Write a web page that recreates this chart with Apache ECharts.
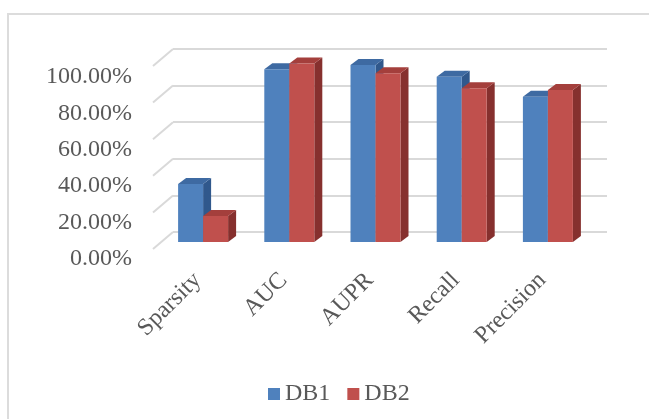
<!DOCTYPE html>
<html>
<head>
<meta charset="utf-8">
<script src="https://cdn.jsdelivr.net/npm/echarts@6/dist/echarts.min.js"></script>
<style>
html,body{margin:0;padding:0;background:#fff;}
#chart{width:649px;height:419px;}
</style>
</head>
<body>
<div id="chart"></div>
<script>
const categories = ['Sparsity', 'AUC', 'AUPR', 'Recall', 'Precision'];
const DB1 = [31.7, 94.4, 96.7, 90.3, 79.4];
const DB2 = [14.2, 97.6, 92.2, 84.0, 83.0];
const yTicks = [0, 20, 40, 60, 80, 100];

const FONT = '"Liberation Serif", "Times New Roman", serif';
const TXT = '#595959';
const GRIDC = '#d9d9d9';
const BAR_W = 25, DX = 8, DY = -6;

const colors = {
  DB1: { front: '#4F81BD', top: '#3E6AA2', side: '#30588C' },
  DB2: { front: '#C0504D', top: '#A43F3C', side: '#86302E' }
};

function barRenderer(sideIdx, c) {
  return function (params, api) {
    const i = api.value(0), v = api.value(1);
    const top = api.coord([i, v]);
    const base = api.coord([i, 0]);
    const x0 = sideIdx === 0 ? top[0] - BAR_W : top[0];
    const x1 = x0 + BAR_W;
    const yt = top[1], yb = base[1];
    return {
      type: 'group',
      children: [
        { type: 'polygon', shape: { points: [[x1, yt], [x1 + DX, yt + DY], [x1 + DX, yb + DY], [x1, yb]] }, style: { fill: c.side } },
        { type: 'polygon', shape: { points: [[x0, yt], [x1, yt], [x1 + DX, yt + DY], [x0 + DX, yt + DY]] }, style: { fill: c.top } },
        { type: 'rect', shape: { x: x0, y: yt, width: BAR_W, height: yb - yt }, style: { fill: c.front } }
      ]
    };
  };
}

const chart = echarts.init(document.getElementById('chart'), null, { renderer: 'canvas' });
chart.setOption({
  backgroundColor: '#ffffff',
  animation: false,
  graphic: [{
    type: 'polyline', silent: true,
    shape: { points: [[8, 419], [8, 14], [649, 14]] },
    style: { stroke: '#dcdcdc', lineWidth: 2, fill: null }
  }],
  legend: {
    data: ['DB1', 'DB2'],
    left: 263, top: 377,
    icon: 'rect', itemWidth: 12, itemHeight: 12, itemGap: 17,
    textStyle: { fontFamily: FONT, fontSize: 24, color: TXT }
  },
  grid: [
    { left: 160, right: 58, top: 59, bottom: 177 },   // bar plane
    { left: 173, right: 42, top: 49, bottom: 187 },   // back wall
    { left: 141, right: 42, top: 77, bottom: 160 }    // label plane
  ],
  xAxis: [
    { type: 'category', gridIndex: 0, data: categories,
      axisLine: { show: false }, axisTick: { show: false }, splitLine: { show: false },
      axisLabel: { interval: 0, rotate: 45, margin: 29, padding: [0, 8, 0, 0],
        fontFamily: FONT, fontSize: 24, color: TXT } },
    { type: 'value', gridIndex: 1, min: 0, max: 1, show: false },
    { type: 'value', gridIndex: 2, min: 0, max: 1, show: false }
  ],
  yAxis: [
    { type: 'value', gridIndex: 0, min: 0, max: 100, interval: 20, show: false },
    { type: 'value', gridIndex: 1, min: 0, max: 100, interval: 20,
      axisLine: { show: false }, axisTick: { show: false }, axisLabel: { show: false },
      splitLine: { show: true, lineStyle: { color: GRIDC, width: 2 } } },
    { type: 'value', gridIndex: 2, min: 0, max: 100, interval: 20,
      axisLine: { show: false }, axisTick: { show: false }, splitLine: { show: false },
      axisLabel: { margin: 9, fontFamily: FONT, fontSize: 24, color: TXT,
        formatter: v => v.toFixed(2) + '%' } }
  ],
  series: [
    { type: 'custom', name: 'diag', xAxisIndex: 1, yAxisIndex: 1, silent: true,
      data: yTicks.map(v => [0, v]), clip: false,
      renderItem: (p, api) => {
        const pt = api.coord([0, api.value(1)]);
        return { type: 'line', shape: { x1: pt[0] - 20, y1: pt[1] + 17, x2: pt[0], y2: pt[1] },
          style: { stroke: GRIDC, lineWidth: 2 } };
      } },
    { type: 'custom', name: 'DB1', xAxisIndex: 0, yAxisIndex: 0, clip: false,
      itemStyle: { color: colors.DB1.front },
      data: DB1.map((v, i) => [i, v]), renderItem: barRenderer(0, colors.DB1) },
    { type: 'custom', name: 'DB2', xAxisIndex: 0, yAxisIndex: 0, clip: false,
      itemStyle: { color: colors.DB2.front },
      data: DB2.map((v, i) => [i, v]), renderItem: barRenderer(1, colors.DB2) }
  ]
});
</script>
</body>
</html>
